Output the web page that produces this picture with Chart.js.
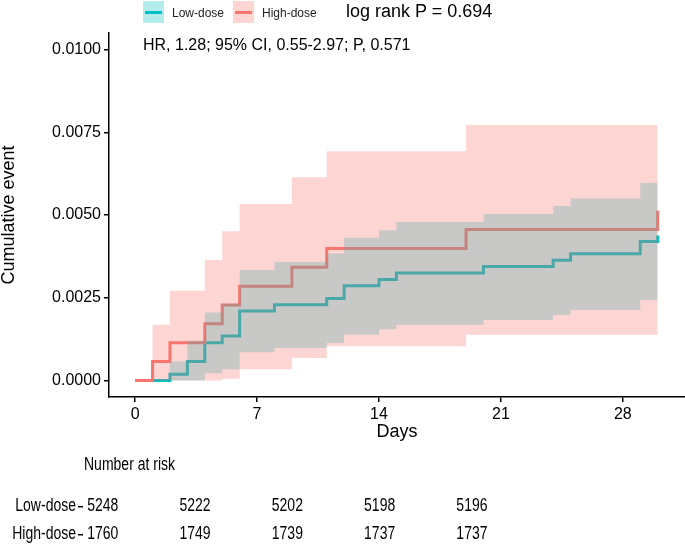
<!DOCTYPE html>
<html lang="en">
<head>
  <meta charset="UTF-8" />
  <title>Cumulative event curve</title>
  <script src="https://cdn.jsdelivr.net/npm/chart.js"></script>
  <style>
    body { margin: 0; background: #fff; width: 685px; height: 547px; position: relative; overflow: hidden;
           font-family: 'Liberation Sans', Arial, sans-serif; color: #000; }
    canvas { position: absolute; left: 0; }
    #kmChart { top: 0; }
    #riskChart { top: 447px; }
    .txt { position: absolute; line-height: 1; white-space: nowrap; }
    .key { position: absolute; top: 1px; width: 21px; height: 22px; }
    .key span { position: absolute; left: 2px; right: 2px; top: 9.5px; height: 3px; }
  </style>
</head>
<body>
  <canvas id="kmChart" width="685" height="447"></canvas>
  <canvas id="riskChart" width="685" height="100"></canvas>

  <div class="key" style="left:143px; background:rgb(178,236,237)"><span style="background:#00BFC4"></span></div>
  <div class="txt" style="left:172px; top:6.5px; font-size:12px; color:#222">Low-dose</div>
  <div class="key" style="left:233px; background:rgb(253,214,211)"><span style="background:#F8766D"></span></div>
  <div class="txt" style="left:262px; top:6.5px; font-size:12px; color:#222">High-dose</div>
  <div class="txt" style="left:346px; top:1.5px; font-size:18px">log rank P = 0.694</div>
  <div class="txt" style="left:143px; top:36.5px; font-size:16px">HR, 1.28; 95% CI, 0.55-2.97; P, 0.571</div>
  <div class="txt" style="left:84px; top:456px; font-size:17.5px; transform:scaleX(0.8); transform-origin:0 0">Number at risk</div>

  <script>
    const groups = ['Low-dose', 'High-dose'];

    // Low-dose: event times (days), cumulative event and 95% CI
    const lowTimes = [0, 2, 3, 4, 5, 6, 8, 11, 12, 14, 15, 20, 24, 25, 29, 30];
    const lowCum   = [0, 0.00019, 0.00057, 0.00114, 0.00134, 0.00210, 0.00229, 0.00248, 0.00286, 0.00305, 0.00325, 0.00344, 0.00363, 0.00383, 0.00420, 0.00438];
    const lowUpper = [0, 0.00057, 0.00120, 0.00205, 0.00232, 0.00334, 0.00358, 0.00384, 0.00431, 0.00454, 0.00479, 0.00503, 0.00527, 0.00550, 0.00597, 0.00618];
    const lowLower = [0, 0, 0, 0.00022, 0.00034, 0.00085, 0.00098, 0.00113, 0.00139, 0.00155, 0.00168, 0.00183, 0.00198, 0.00213, 0.00243, 0.00258];

    // High-dose
    const highTimes = [0, 1, 2, 4, 5, 6, 9, 11, 19, 30];
    const highCum   = [0, 0.00057, 0.00114, 0.00171, 0.00228, 0.00285, 0.00342, 0.00399, 0.00456, 0.00513];
    const highUpper = [0, 0.00168, 0.00271, 0.00364, 0.00451, 0.00533, 0.00614, 0.00693, 0.00772, 0.00846];
    const highLower = [0, 0, 0, 0, 0.00005, 0.00034, 0.00068, 0.00103, 0.00138, 0.00176];

    const xTicks = [0, 7, 14, 21, 28];
    const yTicks = [0, 0.0025, 0.005, 0.0075, 0.01];

    // number at risk
    const riskTimes = [0, 7, 14, 21, 28];
    const riskLow  = [5248, 5222, 5202, 5198, 5196];
    const riskHigh = [1760, 1749, 1739, 1737, 1737];

    const mainFont = "'Liberation Sans', Arial, sans-serif";
    const squeeze = 0.8; // risk table text is set in a narrow face

    const pts = (times, vals) => times.map((t, i) => ({ x: t, y: vals[i] }));

    const band = (data, fill, color) => ({
      data, fill, backgroundColor: color, borderWidth: 0, pointRadius: 0, stepped: 'before'
    });
    const curve = (data, color) => ({
      data, fill: false, borderColor: color, borderWidth: 3, pointRadius: 0,
      stepped: 'before', borderCapStyle: 'butt', borderJoinStyle: 'miter'
    });

    // dataset 0 is drawn last (on top)
    new Chart(document.getElementById('kmChart'), {
      type: 'line',
      data: {
        datasets: [
          band(pts(lowTimes, lowUpper), '+1', 'rgba(76,167,168,0.3)'),
          band(pts(lowTimes, lowLower), false, 'transparent'),
          band(pts(highTimes, highUpper), '+1', 'rgba(248,118,109,0.3)'),
          band(pts(highTimes, highLower), false, 'transparent'),
          curve(pts(highTimes, highCum), '#F8766D'),
          curve(pts(lowTimes, lowCum), '#00BFC4')
        ]
      },
      options: {
        responsive: false,
        animation: false,
        layout: { padding: { top: 33, right: 0, bottom: 0, left: 0 } },
        plugins: { legend: { display: false }, tooltip: { enabled: false } },
        scales: {
          x: {
            type: 'linear', min: -1.5, max: 31.57,
            afterBuildTicks: s => { s.ticks = xTicks.map(v => ({ value: v })); },
            afterFit: s => { s.height = 50; },
            grid: { drawOnChartArea: false, drawTicks: true, tickLength: 5, color: '#000', lineWidth: 1.5 },
            border: { display: true, color: '#000', width: 1.5 },
            ticks: { color: '#000', font: { family: mainFont, size: 16 }, padding: 3, maxRotation: 0 },
            title: { display: true, text: 'Days', color: '#000', font: { family: mainFont, size: 18 }, padding: { top: 0, bottom: 4 } }
          },
          y: {
            type: 'linear', min: -0.0005, max: 0.0105,
            afterBuildTicks: s => { s.ticks = yTicks.map(v => ({ value: v })); },
            afterFit: s => { s.width = 109; },
            grid: { drawOnChartArea: false, drawTicks: true, tickLength: 5, color: '#000', lineWidth: 1.5 },
            border: { display: true, color: '#000', width: 1.5 },
            ticks: { color: '#000', font: { family: mainFont, size: 16 }, padding: 3, callback: v => v.toFixed(4) },
            title: { display: true, text: 'Cumulative event', color: '#000', font: { family: mainFont, size: 18, lineHeight: 1 }, padding: 0 }
          }
        }
      }
    });

    // row labels and counts of the risk table, placed through the table's own scales
    const riskText = {
      id: 'riskText',
      afterDraw(chart) {
        const { ctx, scales: { x, y } } = chart;
        ctx.save();
        ctx.font = '17.5px ' + mainFont;
        ctx.fillStyle = '#000';
        ctx.textBaseline = 'middle';
        ctx.scale(squeeze, 1);
        [riskLow, riskHigh].forEach((row, r) => {
          const py = y.getPixelForValue(r);
          ctx.textAlign = 'right';
          ctx.fillText(groups[r], (y.right - 7) / squeeze, py);
          ctx.textAlign = 'center';
          row.forEach((n, i) => ctx.fillText(String(n), x.getPixelForValue(riskTimes[i]) / squeeze, py));
        });
        ctx.restore();
      }
    };

    new Chart(document.getElementById('riskChart'), {
      type: 'line',
      data: { datasets: [] },
      options: {
        responsive: false,
        animation: false,
        layout: { padding: { top: 59.5, right: 166, bottom: 12.5, left: 0 } },
        plugins: { legend: { display: false }, tooltip: { enabled: false } },
        scales: {
          x: { type: 'linear', min: -1.5, max: 31.57, display: false },
          y: {
            type: 'category', labels: groups, offset: false,
            afterFit: s => { s.width = 83; },
            grid: { offset: false, drawOnChartArea: false, drawTicks: true, tickLength: 5, color: '#000', lineWidth: 1.5 },
            border: { display: false },
            ticks: { display: false }
          }
        }
      },
      plugins: [riskText]
    });
  </script>
</body>
</html>
